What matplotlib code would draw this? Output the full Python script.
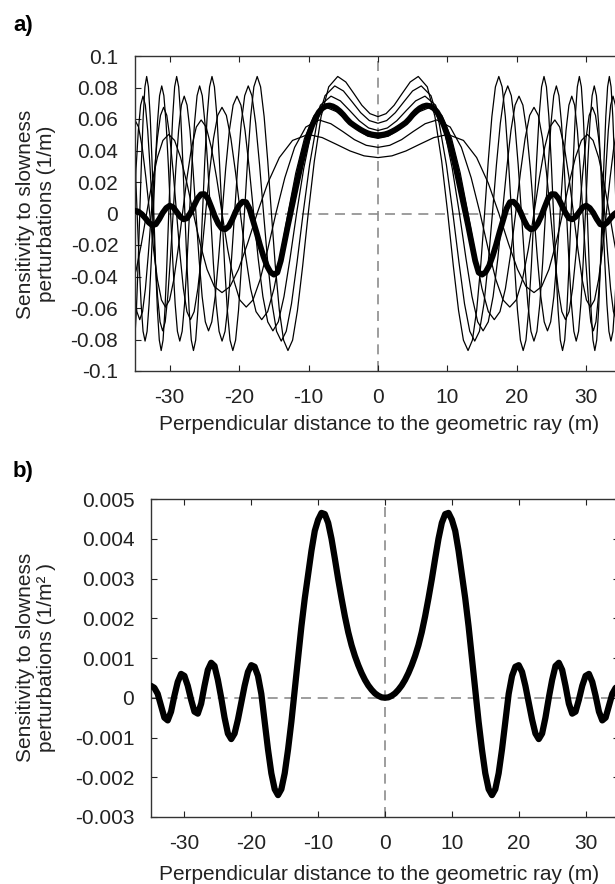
import numpy as np
import matplotlib.pyplot as plt

plt.rcParams['font.family'] = ['Liberation Sans', 'DejaVu Sans']
plt.rcParams['axes.unicode_minus'] = False

# ---- panel a: single-frequency kernels (right half, mirrored about x = 0) ----
x_f6 = [0, 1.16, 2.32, 3.48, 4.64, 5.80,
        7.10, 8.20, 9.17, 10.05, 10.85, 11.60, 12.30, 12.97, 13.60, 14.21, 14.79, 15.35, 15.88, 16.40, 16.91, 17.40,
        17.88, 18.34, 18.79, 19.24, 19.67, 20.09, 20.51, 20.91, 21.31, 21.70, 22.09, 22.46, 22.84, 23.20, 23.56, 23.91,
        24.26, 24.61, 24.95, 25.28, 25.61, 25.94, 26.26, 26.58, 26.89, 27.20, 27.51, 27.82, 28.12, 28.41, 28.71, 29.00,
        29.29, 29.57, 29.86, 30.14, 30.42, 30.69, 30.96, 31.23, 31.50, 31.77, 32.03, 32.29, 32.55, 32.81, 33.07, 33.32,
        33.57, 33.82, 34.07, 34.31, 34.56, 34.80, 35.04]
y_f6 = [0.0615, 0.0634, 0.0687, 0.0762, 0.0835, 0.087,
        0.0804, 0.0615, 0.0333, 0, -0.0333, -0.0615, -0.0804, -0.087, -0.0804, -0.0615, -0.0333, 0, 0.0333, 0.0615, 0.0804, 0.087,
        0.0804, 0.0615, 0.0333, 0, -0.0333, -0.0615, -0.0804, -0.087, -0.0804, -0.0615, -0.0333, 0, 0.0333, 0.0615, 0.0804, 0.087,
        0.0804, 0.0615, 0.0333, 0, -0.0333, -0.0615, -0.0804, -0.087, -0.0804, -0.0615, -0.0333, 0, 0.0333, 0.0615, 0.0804, 0.087,
        0.0804, 0.0615, 0.0333, 0, -0.0333, -0.0615, -0.0804, -0.087, -0.0804, -0.0615, -0.0333, 0, 0.0333, 0.0615, 0.0804, 0.087,
        0.0804, 0.0615, 0.0333, 0, -0.0333, -0.0615, -0.0804]

x_f5 = [0, 1.25, 2.49, 3.74, 4.98, 6.23,
        7.63, 8.81, 9.85, 10.79, 11.66, 12.46, 13.22, 13.93, 14.61, 15.26, 15.88, 16.48, 17.06, 17.62, 18.16, 18.69,
        19.20, 19.70, 20.19, 20.66, 21.13, 21.58, 22.03, 22.46, 22.89, 23.31, 23.72, 24.13, 24.53, 24.92, 25.31, 25.69,
        26.06, 26.43, 26.80, 27.16, 27.51, 27.86, 28.21, 28.55, 28.89, 29.22, 29.55, 29.88, 30.20, 30.52, 30.84, 31.15,
        31.46, 31.77, 32.07, 32.37, 32.67, 32.97, 33.26, 33.55, 33.84, 34.12, 34.41, 34.69, 34.97, 35.24]
y_f5 = [0.0573, 0.059, 0.064, 0.071, 0.0778, 0.081,
        0.0748, 0.0573, 0.031, 0, -0.031, -0.0573, -0.0748, -0.081, -0.0748, -0.0573, -0.031, 0, 0.031, 0.0573, 0.0748, 0.081,
        0.0748, 0.0573, 0.031, 0, -0.031, -0.0573, -0.0748, -0.081, -0.0748, -0.0573, -0.031, 0, 0.031, 0.0573, 0.0748, 0.081,
        0.0748, 0.0573, 0.031, 0, -0.031, -0.0573, -0.0748, -0.081, -0.0748, -0.0573, -0.031, 0, 0.031, 0.0573, 0.0748, 0.081,
        0.0748, 0.0573, 0.031, 0, -0.031, -0.0573, -0.0748, -0.081, -0.0748, -0.0573, -0.031, 0, 0.031, 0.0573]

x_f4 = [0, 1.35, 2.71, 4.06, 5.42, 6.77,
        8.29, 9.57, 10.70, 11.73, 12.67, 13.54, 14.36, 15.14, 15.88, 16.58, 17.26, 17.91, 18.54, 19.15, 19.74, 20.31,
        20.87, 21.41, 21.94, 22.45, 22.96, 23.45, 23.94, 24.41, 24.87, 25.33, 25.78, 26.22, 26.65, 27.08, 27.50, 27.91,
        28.32, 28.72, 29.12, 29.51, 29.90, 30.28, 30.65, 31.02, 31.39, 31.75, 32.11, 32.47, 32.82, 33.17, 33.51, 33.85,
        34.19, 34.52, 34.85, 35.18]
y_f4 = [0.0527, 0.0543, 0.0589, 0.0653, 0.0715, 0.0745,
        0.0688, 0.0527, 0.0285, 0, -0.0285, -0.0527, -0.0688, -0.0745, -0.0688, -0.0527, -0.0285, 0, 0.0285, 0.0527, 0.0688, 0.0745,
        0.0688, 0.0527, 0.0285, 0, -0.0285, -0.0527, -0.0688, -0.0745, -0.0688, -0.0527, -0.0285, 0, 0.0285, 0.0527, 0.0688, 0.0745,
        0.0688, 0.0527, 0.0285, 0, -0.0285, -0.0527, -0.0688, -0.0745, -0.0688, -0.0527, -0.0285, 0, 0.0285, 0.0527, 0.0688, 0.0745,
        0.0688, 0.0527, 0.0285, 0]

x_f3 = [0, 1.50, 3.00, 4.49, 5.99, 7.49,
        9.17, 10.59, 11.84, 12.97, 14.01, 14.98, 15.89, 16.75, 17.57, 18.35, 19.10, 19.82, 20.51, 21.19, 21.84, 22.47,
        23.09, 23.69, 24.27, 24.84, 25.40, 25.95, 26.48, 27.01, 27.52, 28.03, 28.52, 29.01, 29.49, 29.96, 30.42, 30.88,
        31.33, 31.78, 32.22, 32.65, 33.08, 33.50, 33.91, 34.32, 34.73, 35.13]
y_f3 = [0.0477, 0.0491, 0.0533, 0.0591, 0.0647, 0.0674,
        0.0623, 0.0477, 0.0258, 0, -0.0258, -0.0477, -0.0623, -0.0674, -0.0623, -0.0477, -0.0258, 0, 0.0258, 0.0477, 0.0623, 0.0674,
        0.0623, 0.0477, 0.0258, 0, -0.0258, -0.0477, -0.0623, -0.0674, -0.0623, -0.0477, -0.0258, 0, 0.0258, 0.0477, 0.0623, 0.0674,
        0.0623, 0.0477, 0.0258, 0, -0.0258, -0.0477, -0.0623, -0.0674, -0.0623, -0.0477]

x_f2 = [0, 1.70, 3.40, 5.09, 6.79, 8.49,
        10.40, 12.01, 13.42, 14.71, 15.88, 16.98, 18.01, 18.98, 19.91, 20.80, 21.65, 22.46, 23.25, 24.01, 24.75, 25.47,
        26.17, 26.85, 27.51, 28.16, 28.79, 29.41, 30.02, 30.61, 31.19, 31.77, 32.33, 32.88, 33.43, 33.96, 34.49, 35.01]
y_f2 = [0.042, 0.0433, 0.0469, 0.0521, 0.057, 0.0594,
        0.0549, 0.042, 0.0227, 0, -0.0227, -0.042, -0.0549, -0.0594, -0.0549, -0.042, -0.0227, 0, 0.0227, 0.042, 0.0549, 0.0594,
        0.0549, 0.042, 0.0227, 0, -0.0227, -0.042, -0.0549, -0.0594, -0.0549, -0.042, -0.0227, 0, 0.0227, 0.042, 0.0549, 0.0594]

x_f1 = [0, 2.01, 4.02, 6.03, 8.04, 10.05,
        12.31, 14.21, 15.89, 17.41, 18.80, 20.10, 21.32, 22.47, 23.57, 24.62, 25.62, 26.59, 27.52, 28.43, 29.30, 30.15,
        30.98, 31.78, 32.57, 33.33, 34.08, 34.81, 35.53]
y_f1 = [0.0355, 0.0366, 0.0397, 0.044, 0.0482, 0.0502,
        0.0464, 0.0355, 0.0192, 0, -0.0192, -0.0355, -0.0464, -0.0502, -0.0464, -0.0355, -0.0192, 0, 0.0192, 0.0355, 0.0464, 0.0502,
        0.0464, 0.0355, 0.0192, 0, -0.0192, -0.0355, -0.0464]

# ---- broadband kernels, sampled every 0.5 m from 0 to 35 m ----
dist = np.arange(0, 35.5, 0.5)
k_band = [0.0497, 0.0499, 0.0503, 0.0510, 0.0520, 0.0532, 0.0546, 0.0561, 0.0577, 0.0600,
          0.0627, 0.0650, 0.0668, 0.0680, 0.0686, 0.0682, 0.0669, 0.0645, 0.0607, 0.0558,
          0.0495, 0.0418, 0.0330, 0.0232, 0.0128, 0.0025, -0.0080, -0.0190, -0.0300, -0.0375,
          -0.0388, -0.0372, -0.0332, -0.0272, -0.0200, -0.0120, -0.0045, 0.0030, 0.0072, 0.0075,
          0.0052, 0.0012, -0.0040, -0.0082, -0.0100, -0.0095, -0.0065, -0.0018, 0.0040, 0.0095,
          0.0123, 0.0122, 0.0095, 0.0050, 0.0005, -0.0030, -0.0037, -0.0020, 0.0010, 0.0040,
          0.0050, 0.0035, 0.0005, -0.0035, -0.0068, -0.0075, -0.0058, -0.0030, -0.0005, 0.0012,
          0.0018]
k_b = [0.0, 0.00001, 0.00005, 0.00011, 0.0002, 0.00031, 0.00045, 0.00062, 0.00082, 0.00105,
       0.00132, 0.00165, 0.00205, 0.0025, 0.00298, 0.0035, 0.0040, 0.0044, 0.00462, 0.00465,
       0.00448, 0.0042, 0.0037, 0.0031, 0.0025, 0.0018, 0.0010, 0.0002, -0.0006, -0.0013,
       -0.0019, -0.0023, -0.00245, -0.0023, -0.0019, -0.0013, -0.0006, 0.0001, 0.00055, 0.00078,
       0.00082, 0.00065, 0.0003, -0.00012, -0.00055, -0.0009, -0.00104, -0.0009, -0.0005, 0.0,
       0.00045, 0.0008, 0.00088, 0.0007, 0.0003, -0.00015, -0.0004, -0.00035, -0.00005, 0.0003,
       0.00055, 0.0006, 0.0004, 0.00005, -0.00035, -0.00057, -0.0005, -0.0002, 0.0001, 0.00025,
       0.0003]

xticks = [-30, -20, -10, 0, 10, 20, 30]
xtick_labels = ['-30', '-20', '-10', '0', '10', '20', '30']
yticks_a = [-0.1, -0.08, -0.06, -0.04, -0.02, 0, 0.02, 0.04, 0.06, 0.08, 0.1]
ytick_labels_a = ['-0.1', '-0.08', '-0.06', '-0.04', '-0.02', '0', '0.02', '0.04', '0.06', '0.08', '0.1']
yticks_b = [-0.003, -0.002, -0.001, 0, 0.001, 0.002, 0.003, 0.004, 0.005]
ytick_labels_b = ['-0.003', '-0.002', '-0.001', '0', '0.001', '0.002', '0.003', '0.004', '0.005']
xlabel = 'Perpendicular distance to the geometric ray (m)'


def mirror(x, y):
    x = np.asarray(x, dtype=float)
    y = np.asarray(y, dtype=float)
    return np.concatenate([-x[::-1], x[1:]]), np.concatenate([y[::-1], y[1:]])


W, H = 615, 884
FS = 15


def box(left, right, top, bottom):
    return [left / W, 1 - bottom / H, (right - left) / W, (bottom - top) / H]


fig = plt.figure(figsize=(6.15, 8.84), dpi=100)
ax1 = fig.add_axes(box(135, 621, 56, 371))
ax2 = fig.add_axes(box(151, 619, 499, 817))

dash = dict(color='#8c8c8c', lw=1.2, ls=(0, (6, 4)), zorder=1)
for ax in (ax1, ax2):
    ax.axhline(0, **dash)
    ax.axvline(0, **dash)
    ax.set_xlim(-35, 35)
    ax.set_xticks(xticks)
    ax.set_xticklabels(xtick_labels)
    ax.tick_params(direction='in', length=4, width=0.8, top=True, right=True,
                   labelsize=FS, colors='#222222', pad=12)
    for s in ax.spines.values():
        s.set_linewidth(1.0)
        s.set_color('#333333')

for xs, ys in [(x_f1, y_f1), (x_f2, y_f2), (x_f3, y_f3), (x_f4, y_f4), (x_f5, y_f5), (x_f6, y_f6)]:
    xx, yy = mirror(xs, ys)
    ax1.plot(xx, yy, color='black', lw=0.9, zorder=2)

xx, yy = mirror(dist, k_band)
ax1.plot(xx, yy, color='black', lw=4.2, solid_capstyle='round', zorder=3)
ax1.set_ylim(-0.1, 0.1)
ax1.set_yticks(yticks_a)
ax1.set_yticklabels(ytick_labels_a)

xx, yy = mirror(dist, k_b)
ax2.plot(xx, yy, color='black', lw=4.5, solid_capstyle='round', zorder=3)
ax2.set_ylim(-0.003, 0.005)
ax2.set_yticks(yticks_b)
ax2.set_yticklabels(ytick_labels_b)

fig.text(379 / W, 1 - 424 / H, xlabel, ha='center', va='center', fontsize=FS, color='#222222')
fig.text(379 / W, 1 - 874 / H, xlabel, ha='center', va='center', fontsize=FS, color='#222222')
fig.text(36 / W, 1 - 214 / H, 'Sensitivity to slowness\nperturbations (1/m)', rotation=90,
         ha='center', va='center', multialignment='center', fontsize=FS, linespacing=1.1, color='#222222')
fig.text(36 / W, 1 - 657 / H, 'Sensitivity to slowness\nperturbations (1/m² )', rotation=90,
         ha='center', va='center', multialignment='center', fontsize=FS, linespacing=1.1, color='#222222')
fig.text(13 / W, 1 - 25 / H, 'a)', fontsize=16, fontweight='bold', va='center')
fig.text(13 / W, 1 - 471 / H, 'b)', fontsize=16, fontweight='bold', va='center')

fig.savefig('out.png', dpi=100)
